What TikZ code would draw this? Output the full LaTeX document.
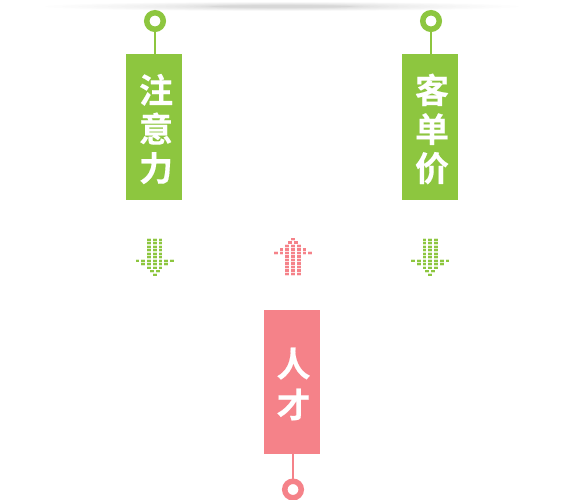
\documentclass[tikz,border=0pt]{standalone}
\usepackage{fontspec}
\newfontfamily\cjk{Noto Sans CJK SC}[BoldFont={Noto Sans CJK SC Bold},BoldFeatures={FakeBold=0.4}]
\definecolor{tagGreen}{HTML}{8DC63F}
\definecolor{tagPink}{HTML}{F58289}
\tikzset{
  tag/.style={rectangle,minimum width=56pt,inner sep=0pt},
  tagtext/.style={inner sep=0pt,text=white,align=center},
  tagfontA/.style={font=\cjk\bfseries\fontsize{34}{39}\selectfont},
  tagfontB/.style={font=\cjk\bfseries\fontsize{34}{41}\selectfont},
  ring/.style={circle,draw=#1,fill=white,line width=5.5pt,minimum size=16.5pt,inner sep=0pt},
  stem/.style={line width=1.6pt},
}
\newcommand{\dotat}[3]{\fill[#1] ({#2-1.9},{#3-1.15}) rectangle ({#2+1.9},{#3+1.15});
  \fill[#1,opacity=.25] ({#2-1.9},{#3-1.75}) rectangle ({#2+1.9},{#3+1.75});}
\newcommand{\downarrowdots}[2]{%
  \foreach \r in {0,...,8}{\foreach \c in {-5.8,0,5.8}{\dotat{#2}{#1+\c}{239.7+3.5*\r}}}
  \foreach \c in {-17.2,-11.5,11.5,17.2}{\dotat{#2}{#1+\c}{260.7}}
  \foreach \c in {-11.5,11.5}{\dotat{#2}{#1+\c}{264.2}}
  \foreach \c in {-2.9,2.9}{\dotat{#2}{#1+\c}{271.3}}
  \dotat{#2}{#1}{274.7}
}
\newcommand{\uparrowdots}[2]{%
  \dotat{#2}{#1}{239.3}
  \foreach \c in {-2.9,2.9}{\dotat{#2}{#1+\c}{242.4}}
  \foreach \r in {0,...,8}{\foreach \c in {-5.8,0,5.8}{\dotat{#2}{#1+\c}{246+3.5*\r}}}
  \foreach \c in {-11.5,11.5}{\dotat{#2}{#1+\c}{249.5}}
  \foreach \c in {-17.2,-11.5,11.5,17.2}{\dotat{#2}{#1+\c}{253}}
}
\begin{document}
\begin{tikzpicture}[x=1pt,y=-1pt]
\useasboundingbox (0,0) rectangle (564,499);
\clip (0,0) rectangle (564,499);
\fill[white] (0,0) rectangle (564,499);
% top shadow
\foreach \t in {0,0.05,...,1}{
  \pgfmathsetmacro{\w}{70+185*\t*\t}
  \pgfmathsetmacro{\h}{1.2+3.6*\t}
  \fill[black,opacity=.0085] (282,6.5) ellipse ({\w} and {\h});
}
% tags
\node[tag,fill=tagGreen,minimum height=146pt] (t1) at (154,127) {};
\node[tag,fill=tagGreen,minimum height=146pt] (t2) at (430,127) {};
\node[tag,fill=tagPink,minimum height=144pt] (t3) at (292,382) {};
\node[tagtext,tagfontA] (l1) at (156,129) {注\\意\\力};
\node[tagtext,tagfontA] (l2) at (432,129) {客\\单\\价};
\node[tagtext,tagfontB] (l3) at (293.5,384) {人\\才};
\node[ring=tagGreen] (r1) at (155,21) {};
\node[ring=tagGreen] (r2) at (431,21) {};
\node[ring=tagPink] (r3) at (293,489.5) {};
\draw[stem,tagGreen] (r1.south) -- (r1.south |- t1.north);
\draw[stem,tagGreen] (r2.south) -- (r2.south |- t2.north);
\draw[stem,tagPink] (r3.north) -- (r3.north |- t3.south);
% dotted arrows
\downarrowdots{154.7}{tagGreen}
\downarrowdots{430.2}{tagGreen}
\uparrowdots{293}{tagPink}
\end{tikzpicture}
\end{document}
